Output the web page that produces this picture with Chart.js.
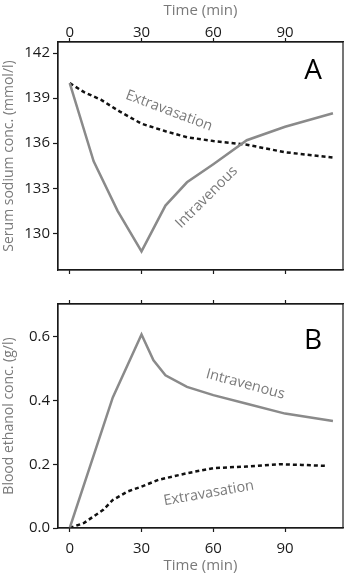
<!DOCTYPE html>
<html lang="en">
<head>
<meta charset="UTF-8">
<title>Serum sodium and blood ethanol after glycine absorption</title>
<script src="https://cdn.jsdelivr.net/npm/chart.js"></script>
<style>
    body { margin: 0; background: #fff; }
    #wrap { position: relative; width: 347px; height: 573px; }
    .panel { position: absolute; left: 0; width: 347px; }
    #panelA { top: 0; height: 282px; }
    #panelB { top: 290px; height: 283px; }
</style>
</head>
<body>
<div id="wrap">
    <div class="panel" id="panelA"><canvas id="chartA"></canvas></div>
    <div class="panel" id="panelB"><canvas id="chartB"></canvas></div>
</div>
<script>
// time ticks shared by both panels
const timeTicks = [0, 30, 60, 90];

// panel A - serum sodium (mmol/l)
const sodiumTicks = [130, 133, 136, 139, 142];
const ivTimeA = [0, 10, 20, 30, 40, 49, 60, 74, 90, 110];
const ivSodium = [140.0, 134.8, 131.5, 128.8, 131.85, 133.4, 134.6, 136.2, 137.1, 138.0];
const exTimeA = [0, 6, 13, 21, 30, 40, 49, 60, 74, 90, 110];
const exSodium = [140.0, 139.4, 138.9, 138.1, 137.3, 136.8, 136.4, 136.15, 135.9, 135.4, 135.05];

// panel B - blood ethanol (g/l)
const ethanolTicks = [0.0, 0.2, 0.4, 0.6];
const ivTimeB = [0, 18, 30, 35, 40, 49, 60, 74, 90, 110];
const ivEthanol = [0.0, 0.41, 0.607, 0.526, 0.479, 0.443, 0.417, 0.39, 0.359, 0.336];
const exTimeB = [0, 6, 14, 18, 24, 30, 37, 49, 60, 74, 88, 97, 107];
const exEthanol = [0.0, 0.016, 0.057, 0.088, 0.114, 0.13, 0.151, 0.172, 0.188, 0.193, 0.2, 0.198, 0.195];

const FONT = "'Open Sans', 'DejaVu Sans', sans-serif";
const GREY = '#8a8a8a';
const TEXT_GREY = '#7a7a7a';
const INK = '#1a1a1a';

function pts(xs, ys) {
    return xs.map((x, i) => ({ x: x, y: ys[i] }));
}

function fixTicks(values) {
    return function (scale) {
        scale.ticks = values.map(v => ({ value: v }));
    };
}

// box around the plot area + the in-plot texts (placed in data units)
const boxAndNotes = {
    id: 'boxAndNotes',
    afterDatasetsDraw(chart, args, opts) {
        const ctx = chart.ctx;
        const a = chart.chartArea;
        ctx.save();
        ctx.strokeStyle = INK;
        ctx.lineWidth = 1.2;
        ctx.strokeRect(a.left, a.top, a.right - a.left, a.bottom - a.top);
        const xs = chart.scales.x, ys = chart.scales.y;
        (opts.notes || []).forEach(n => {
            ctx.save();
            ctx.translate(xs.getPixelForValue(n.x), ys.getPixelForValue(n.y));
            ctx.rotate(n.angle * Math.PI / 180);
            ctx.font = n.size + 'px ' + FONT;
            ctx.fillStyle = n.color;
            ctx.textAlign = 'center';
            ctx.textBaseline = 'middle';
            ctx.fillText(n.text, 0, 0);
            ctx.restore();
        });
        ctx.restore();
    }
};

function timeAxis(pos, showLabels, height, labelPad, titlePad) {
    return {
        type: 'linear',
        position: pos,
        min: -4.9,
        max: 114.2,
        afterBuildTicks: fixTicks(timeTicks),
        afterFit: s => { s.height = height; },
        border: { display: true, color: INK, width: 1.2 },
        grid: { display: true, drawOnChartArea: false, drawTicks: true, tickLength: 4, tickWidth: 1.2, tickColor: INK },
        ticks: { display: showLabels, color: INK, padding: labelPad, maxRotation: 0, font: { family: FONT, size: 15 } },
        title: {
            display: showLabels,
            text: 'Time (min)',
            color: TEXT_GREY,
            padding: titlePad,
            font: { family: FONT, size: 15 }
        }
    };
}

function valueAxis(min, max, ticks, digits, label) {
    return {
        type: 'linear',
        position: 'left',
        min: min,
        max: max,
        afterBuildTicks: fixTicks(ticks),
        afterFit: s => { s.width = 58; },
        border: { display: true, color: INK, width: 1.2 },
        grid: { display: true, drawOnChartArea: false, drawTicks: true, tickLength: 5, tickWidth: 1.2, tickColor: INK },
        ticks: {
            color: INK,
            padding: 3,
            font: { family: FONT, size: 15 },
            callback: v => v.toFixed(digits)
        },
        title: {
            display: true,
            text: label,
            color: TEXT_GREY,
            padding: { top: 1, bottom: 0 },
            font: { family: FONT, size: 14 }
        }
    };
}

function lineSet(label, data, dashed) {
    return {
        label: label,
        data: data,
        borderColor: dashed ? '#111' : GREY,
        borderWidth: 2.5,
        borderDash: dashed ? [4, 3] : [],
        pointRadius: 0,
        tension: 0,
        fill: false
    };
}

function baseOptions(scales, notes) {
    return {
        responsive: true,
        maintainAspectRatio: false,
        animation: false,
        layout: { padding: { left: 0, right: 4, top: 0, bottom: 0 } },
        plugins: {
            legend: { display: false },
            tooltip: { enabled: false },
            boxAndNotes: { notes: notes }
        },
        scales: scales
    };
}

const notesA = [
    { text: 'A', x: 101.7, y: 140.8, angle: 0, size: 28, color: '#000' },
    { text: 'Extravasation', x: 41.5, y: 138.16, angle: 20.7, size: 14.5, color: TEXT_GREY },
    { text: 'Intravenous', x: 57.2, y: 132.4, angle: -45, size: 14.5, color: TEXT_GREY }
];

const notesB = [
    { text: 'B', x: 101.7, y: 0.588, angle: 0, size: 28, color: '#000' },
    { text: 'Intravenous', x: 73.4, y: 0.451, angle: 15, size: 14.5, color: TEXT_GREY },
    { text: 'Extravasation', x: 58.1, y: 0.109, angle: -10, size: 14.5, color: TEXT_GREY }
];

new Chart(document.getElementById('chartA'), {
    type: 'line',
    data: {
        datasets: [
            lineSet('Intravenous', pts(ivTimeA, ivSodium), false),
            lineSet('Extravasation', pts(exTimeA, exSodium), true)
        ]
    },
    options: baseOptions({
        x: timeAxis('bottom', false, 8, 0, 0),
        xTop: timeAxis('top', true, 42, -4, { top: 2, bottom: 0 }),
        y: valueAxis(127.56, 142.74, sodiumTicks, 0, 'Serum sodium conc. (mmol/l)')
    }, notesA),
    plugins: [boxAndNotes]
});

new Chart(document.getElementById('chartB'), {
    type: 'line',
    data: {
        datasets: [
            lineSet('Intravenous', pts(ivTimeB, ivEthanol), false),
            lineSet('Extravasation', pts(exTimeB, exEthanol), true)
        ]
    },
    options: baseOptions({
        x: timeAxis('bottom', true, 45, 8, { top: 0, bottom: -2 }),
        xTop: timeAxis('top', false, 14, 0, 0),
        y: valueAxis(0, 0.703, ethanolTicks, 1, 'Blood ethanol conc. (g/l)')
    }, notesB),
    plugins: [boxAndNotes]
});
</script>
</body>
</html>
